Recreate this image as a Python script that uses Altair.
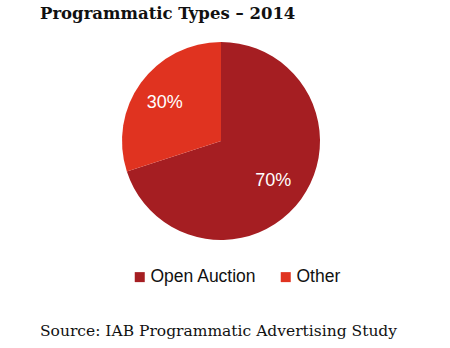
import altair as alt
import pandas as pd

categories = ["Open Auction", "Other"]
values = [70, 30]
labels = ["70%", "30%"]
colors = ["#A51E22", "#E03320"]

title_text = "Programmatic Types \u2013 2014"
source_text = "Source: IAB Programmatic Advertising Study"

df = pd.DataFrame({"type": categories, "value": values, "label": labels, "order": [0, 1]})

base = alt.Chart(df).encode(
    theta=alt.Theta("value:Q", stack=True),
    order=alt.Order("order:Q"),
    x=alt.value(221),
    y=alt.value(141),
)

pie = base.mark_arc(outerRadius=99, stroke=None).encode(
    color=alt.Color(
        "type:N",
        scale=alt.Scale(domain=categories, range=colors),
        sort=categories,
        legend=alt.Legend(
            title=None,
            orient="none",
            legendX=131,
            legendY=268,
            direction="horizontal",
            symbolType="square",
            symbolSize=100,
            symbolStrokeWidth=0,
            labelFont="Liberation Sans",
            labelFontSize=17.5,
            labelColor="#111111",
            labelOffset=2,
            columnPadding=20,
        ),
    )
)

text = base.mark_text(radius=67, fontSize=18, font="Liberation Sans", color="white", dx=-2, dy=1).encode(
    text="label:N"
)

one = alt.Data(values=[{"a": 1}])
title = alt.Chart(one).mark_text(
    text=title_text, font="DejaVu Serif", fontWeight="bold", fontSize=16.5,
    align="left", baseline="alphabetic", color="#111111"
).encode(x=alt.value(40), y=alt.value(19))

source = alt.Chart(one).mark_text(
    text=source_text, font="DejaVu Serif", fontSize=15.5,
    align="left", baseline="alphabetic", color="#111111"
).encode(x=alt.value(40), y=alt.value(336))

chart = alt.layer(pie, text, title, source).properties(
    width=450, height=348, autosize="none", padding=0,
).configure_view(stroke=None)

chart.save("out.html", embed_options={"renderer": "svg", "actions": False})
